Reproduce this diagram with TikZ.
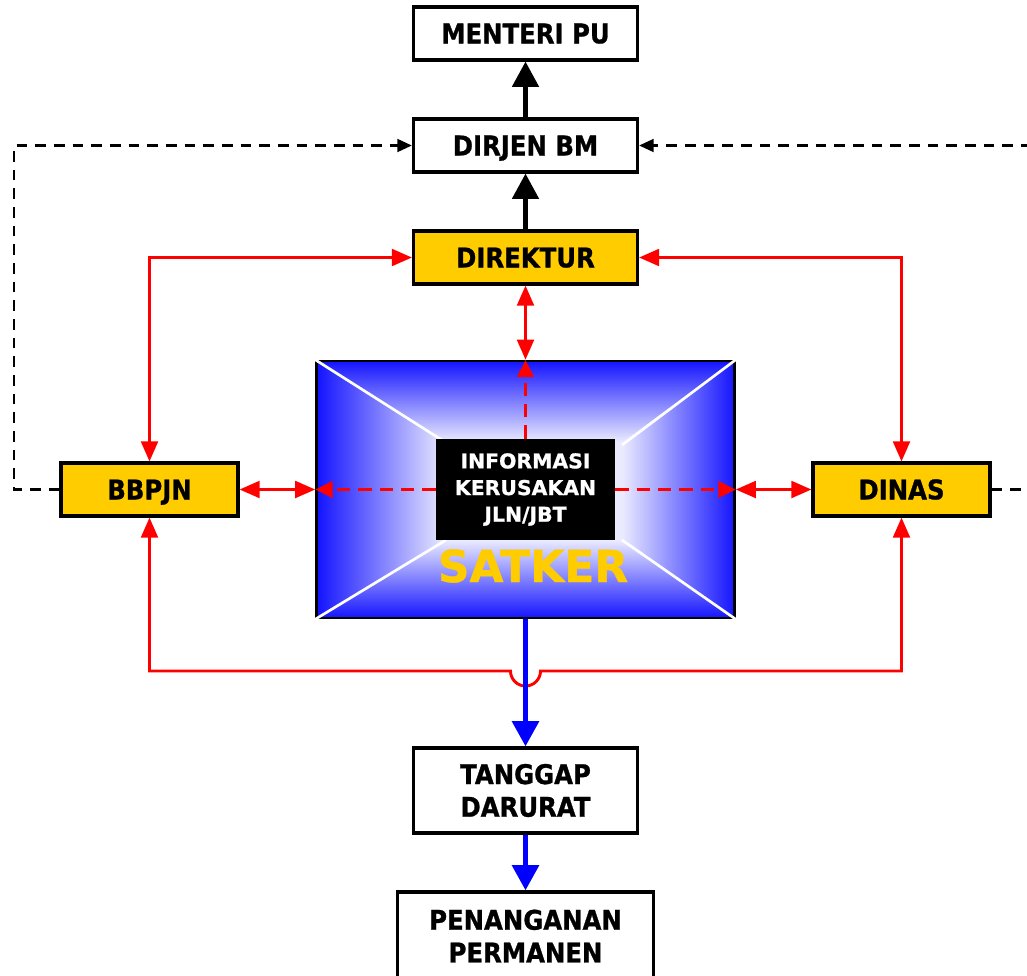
\documentclass[tikz,border=0pt]{standalone}
\usepackage{fontspec}
\setmainfont{DejaVu Sans}[BoldFeatures={FakeBold=1}]
\newfontfamily\boxfont{DejaVu Sans}[FakeStretch=0.9, BoldFeatures={FakeBold=1}]
\usetikzlibrary{arrows.meta}
\definecolor{myyellow}{HTML}{FFCC00}
\definecolor{myred}{HTML}{FF0000}
\definecolor{myblue}{HTML}{0000FF}
\definecolor{shout}{RGB}{20,20,255}
\definecolor{shin}{RGB}{235,235,255}
\tikzset{
  box/.style={draw, line width=2.3pt, minimum width=168pt, minimum height=39.75pt,
    font=\boxfont\fontsize{20.3}{24.5}\selectfont\bfseries, align=center, inner sep=0pt, fill=white},
  one/.style={text height=14.8pt, text depth=0pt},
  ybox/.style={box, fill=myyellow},
  blk/.style={line width=3.6pt, -{Triangle[length=19pt,width=19.5pt]}},
  blu/.style={myblue, line width=4.3pt, -{Triangle[length=19pt,width=19.5pt]}},
  dsh/.style={line width=2.1pt, dash pattern=on 8pt off 6pt},
  dshtip/.style={-{Triangle[length=11pt,width=9.5pt]}},
  redln/.style={myred, line width=2.2pt, {Triangle[length=15pt,width=12.5pt]}-{Triangle[length=15pt,width=12.5pt]}},
  reddsh/.style={myred, line width=2.8pt, dash pattern=on 10pt off 6pt, -{Triangle[length=13pt,width=12pt]}},
  whiteln/.style={white, line width=2pt}
}
\begin{document}
\begin{tikzpicture}[x=0.75pt, y=-0.75pt]
\useasboundingbox (0,0) rectangle (1027,975);
\clip (0,0) rectangle (1027,975);

% top chain
\node[box, one] (menteri) at (525.5,33.5) {MENTERI PU};
\node[box, one] (dirjen) at (525.5,145.5) {DIRJEN BM};
\node[ybox, one] (direktur) at (525.5,257.5) {DIREKTUR};

% side nodes
\node[ybox, one, minimum width=132.75pt] (bbpjn) at (149.5,489.5) {BBPJN};
\node[ybox, one, minimum width=132.75pt] (dinas) at (901.5,489.5) {DINAS};

% SATKER shading
\shade[top color=shout, bottom color=shin] (317,361) -- (735,361) -- (622,442) -- (445,442) -- cycle;
\shade[bottom color=shout, top color=shin] (317,618) -- (735,618) -- (622,540) -- (445,540) -- cycle;
\shade[left color=shout, right color=shin] (317,361) -- (445,442) -- (445,540) -- (317,618) -- cycle;
\shade[right color=shout, left color=shin] (735,361) -- (622,442) -- (622,540) -- (735,618) -- cycle;
\fill[shin] (444.5,441.5) rectangle (622.5,540.5);
\node[draw, line width=1.9pt, minimum width=313.5pt, minimum height=192.75pt, inner sep=0pt] (satker) at (525.5,489.5) {};
\draw[whiteln] (satker.north west) -- (445,442);
\draw[whiteln] (satker.north east) -- (622,445);
\draw[whiteln] (satker.south west) -- (446,540);
\draw[whiteln] (satker.south east) -- (622,540);
\node[fill=black, minimum width=134.25pt, minimum height=75.75pt, inner sep=0pt, text=white,
  font=\fontsize{15.3}{20}\selectfont\bfseries, align=center] (info) at (525.5,489.5) {INFORMASI\\KERUSAKAN\\JLN/JBT};
\node[text=myyellow, font=\fontsize{33}{36}\selectfont\bfseries, inner sep=0pt] (satkerlbl) at (533,566) {SATKER};

% bottom nodes
\node[box, minimum height=63.75pt] (tanggap) at (525.5,790.5) {TANGGAP\\DARURAT};
\node[box, minimum width=192pt, minimum height=66pt] (penanganan) at (525.5,936) {PENANGANAN\\PERMANEN};

% black arrows
\draw[blk] (direktur.north) -- (dirjen.south);
\draw[blk] (dirjen.north) -- (menteri.south);

% dashed black loops
\coordinate (lloop) at (14,0);
\coordinate (rloop) at (1045,0);
\draw[dsh, dshtip] (bbpjn.west) -- (bbpjn.west -| lloop) |- (dirjen.west);
\draw[dsh, dshtip] (dinas.east) -- (dinas.east -| rloop) |- (dirjen.east);

% red connectors
\draw[redln] (bbpjn.north) |- (direktur.west);
\draw[redln] (dinas.north) |- (direktur.east);
\draw[redln] (direktur.south) -- (satker.north);
\draw[redln] (bbpjn.east) -- (satker.west);
\draw[redln] (dinas.west) -- (satker.east);
\coordinate (hopL) at (510.5,671);
\draw[redln] (bbpjn.south) -- (bbpjn.south |- hopL) -- (hopL)
  arc[start angle=180, end angle=360, radius=11.25pt] -- (dinas.south |- hopL) -- (dinas.south);

% red dashed inside SATKER
\draw[reddsh] (info.north) -- (satker.north);
\draw[reddsh] (info.west) -- (satker.west);
\draw[reddsh] (info.east) -- (satker.east);

% blue arrows
\draw[blu] (satker.south) -- (tanggap.north);
\draw[blu] (tanggap.south) -- (penanganan.north);
\end{tikzpicture}
\end{document}
